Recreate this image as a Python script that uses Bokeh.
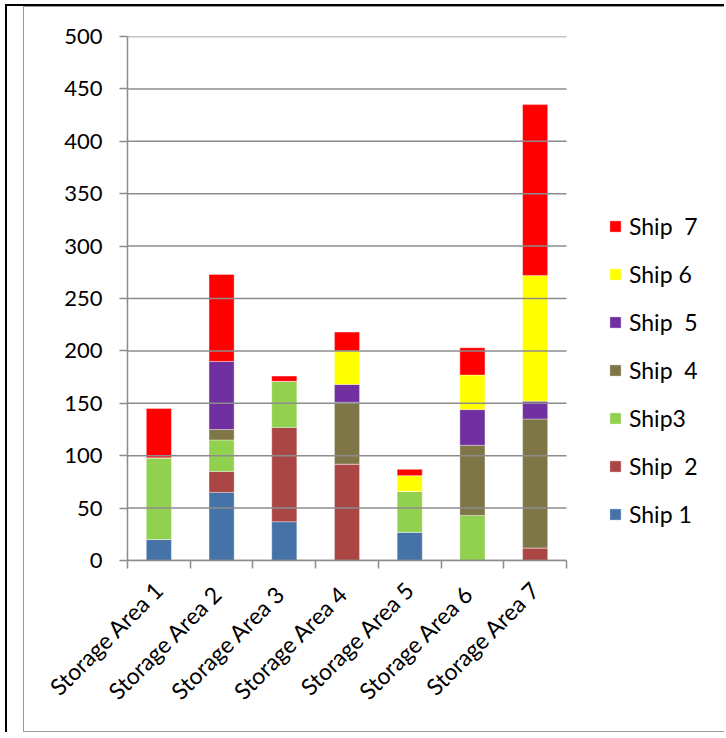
import math
from bokeh.plotting import figure
from bokeh.layouts import column
from bokeh.models import ColumnDataSource, Range1d, FixedTicker, Legend, LegendItem
from bokeh.embed import file_html
from bokeh.resources import INLINE

# Storage areas (categories) and the quantity each ship places in them
areas = ["Storage Area 1", "Storage Area  2", "Storage Area  3", "Storage Area  4",
         "Storage Area 5", "Storage Area  6", "Storage Area 7"]
ship_1 = [20, 65, 37, 0, 27, 0, 0]
ship_2 = [0, 20, 90, 92, 0, 0, 12]
ship_3 = [78, 30, 44, 0, 39, 43, 0]
ship_4 = [0, 10, 0, 59, 0, 67, 123]
ship_5 = [0, 65, 0, 17, 0, 34, 17]
ship_6 = [0, 0, 0, 32, 15, 33, 120]
ship_7 = [47, 83, 5, 18, 6, 26, 163]

series_names = ["Ship 1", "Ship  2", "Ship3", "Ship  4", "Ship  5", "Ship 6", "Ship  7"]
series_values = [ship_1, ship_2, ship_3, ship_4, ship_5, ship_6, ship_7]
series_colors = ["#4572A7", "#AA4643", "#92D050", "#7F7648", "#7030A0", "#FFFF00", "#FF0000"]
y_ticks = list(range(0, 501, 50))

FONT = "Lato"
GRID = "#8c8c8c"

n_cat = len(areas)
PLOT_W = 439          # pixel width of the category area
FRAME_W = 598         # frame also hosts the legend to the right of the bars

keys = [f"s{i}" for i in range(len(series_names))]
data = {"x": [i + 0.5 for i in range(n_cat)]}
for k, vals in zip(keys, series_values):
    data[k] = vals
source = ColumnDataSource(data)

p = figure(width=701, height=726, output_backend="svg", toolbar_location=None,
           x_range=Range1d(0, n_cat * FRAME_W / PLOT_W), y_range=Range1d(0, 500),
           min_border_left=103, min_border_right=0, min_border_top=29,
           min_border_bottom=173)
p.outline_line_color = None
p.background_fill_color = "white"
p.border_fill_color = "white"

renderers = p.vbar_stack(keys, x="x", width=0.4, source=source, color=series_colors,
                         line_color="white", line_alpha=0.35, line_width=1)

# horizontal grid lines spanning the category area only
p.xgrid.grid_line_color = None
p.ygrid.grid_line_color = None
p.segment(x0=0, x1=n_cat, y0=y_ticks, y1=y_ticks, line_color=GRID, line_width=1.5)

# y axis
p.yaxis.ticker = FixedTicker(ticks=y_ticks)
p.yaxis.axis_line_color = GRID
p.yaxis.axis_line_width = 1.5
p.yaxis.major_tick_line_color = GRID
p.yaxis.major_tick_line_width = 1.5
p.yaxis.major_tick_out = 8
p.yaxis.major_tick_in = 0
p.yaxis.minor_tick_line_color = None
p.yaxis.major_label_standoff = 17
p.yaxis.major_label_text_font = FONT
p.yaxis.major_label_text_font_size = "22px"
p.yaxis.major_label_text_color = "black"

# x axis: labels at category centres, tick marks between categories
centres = [i + 0.5 for i in range(n_cat)]
p.xaxis.bounds = (0, n_cat)
p.xaxis.ticker = FixedTicker(ticks=centres, minor_ticks=list(range(n_cat + 1)))
p.xaxis.major_label_overrides = {c: a for c, a in zip(centres, areas)}
p.xaxis.major_label_orientation = math.pi / 4
p.xaxis.major_tick_out = 0
p.xaxis.major_tick_in = 0
p.xaxis.minor_tick_out = 8
p.xaxis.minor_tick_in = 0
p.xaxis.minor_tick_line_color = GRID
p.xaxis.minor_tick_line_width = 1.5
p.xaxis.axis_line_color = GRID
p.xaxis.axis_line_width = 1.5
p.xaxis.major_label_standoff = 17
p.xaxis.major_label_text_font = FONT
p.xaxis.major_label_text_font_size = "23px"
p.xaxis.major_label_text_color = "black"

# legend to the right of the bars, topmost series first
items = [LegendItem(label=n, renderers=[r]) for n, r in zip(series_names, renderers)][::-1]
legend = Legend(items=items, location=(481, 32), orientation="vertical",
                glyph_width=14, glyph_height=14, label_height=14, spacing=20,
                label_standoff=7, padding=0, margin=0,
                label_text_font=FONT, label_text_font_size="23px",
                label_text_color="black", border_line_color=None,
                background_fill_alpha=0)
p.add_layout(legend)

p.styles = {"border-left": "1.5px solid #9a9a9a", "border-top": "1.5px solid #9a9a9a",
            "border-bottom": "1.5px solid #9a9a9a"}

page = column(p, styles={"border-left": "2px solid black", "border-top": "2px solid black",
                         "margin-left": "5px", "margin-top": "4px", "padding-left": "16px",
                         "background-color": "white"})

open("out.html", "w").write(file_html(page, INLINE))
